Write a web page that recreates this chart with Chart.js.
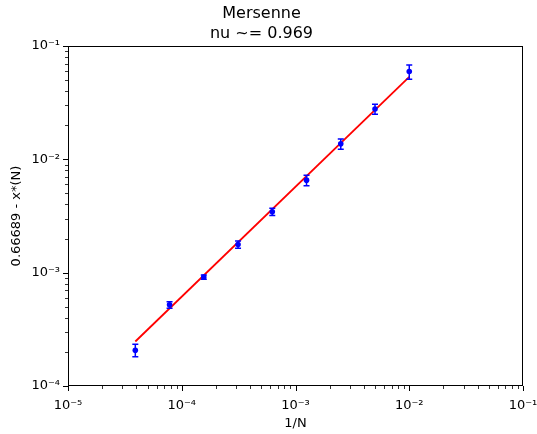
<!DOCTYPE html>
<html>
<head>
<meta charset="utf-8">
<script src="https://cdn.jsdelivr.net/npm/chart.js@4/dist/chart.umd.min.js"></script>
<style>
  html, body { margin: 0; padding: 0; background: #fff; }
</style>
</head>
<body>
<canvas id="chart" width="537" height="434"></canvas>
<script>
// 1/N for N = 25600 ... 100
const invN = [3.90625e-5, 7.8125e-5, 1.5625e-4, 3.125e-4, 6.25e-4, 1.25e-3, 2.5e-3, 5e-3, 1e-2];
// 0.66689 - x*(N) and its error
const gap = [2.07e-4, 5.2e-4, 9.15e-4, 1.77e-3, 3.45e-3, 6.55e-3, 1.37e-2, 2.78e-2, 5.95e-2];
const gapErr = [2.6e-5, 3.5e-5, 4e-5, 1.3e-4, 2.6e-4, 7e-4, 1.4e-3, 2.8e-3, 8.5e-3];
// fitted power law (slope ~ 0.969), endpoints
const fitX = [3.90625e-5, 1e-2];
const fitY = [2.47e-4, 5.33e-2];

const xDecades = [1e-5, 1e-4, 1e-3, 1e-2, 1e-1];
const xTickLabels = ['10⁻⁵', '10⁻⁴', '10⁻³', '10⁻²', '10⁻¹'];
const yDecades = [1e-4, 1e-3, 1e-2, 1e-1];
const yTickLabels = ['10⁻⁴', '10⁻³', '10⁻²', '10⁻¹'];

const FONT = 'DejaVu Sans';

// major + minor ticks (2..9 per decade)
function logTicks(decades) {
    const out = [];
    decades.forEach((d, i) => {
        out.push({ value: d, major: true });
        if (i < decades.length - 1) {
            for (let k = 2; k <= 9; k++) out.push({ value: d * k, major: false });
        }
    });
    return out;
}

function decadeLabel(decades, labels) {
    return function (value) {
        for (let i = 0; i < decades.length; i++) {
            if (Math.abs(Math.log10(value) - Math.log10(decades[i])) < 1e-6) return labels[i];
        }
        return '';
    };
}

// error bars, drawn just before the markers
const errorBars = {
    id: 'errorBars',
    beforeDatasetDraw(chart, args) {
        if (args.index !== 0) return;
        const { ctx, scales: { x, y } } = chart;
        ctx.save();
        ctx.strokeStyle = '#0000ff';
        ctx.lineWidth = 1.5;
        for (let i = 0; i < invN.length; i++) {
            const px = x.getPixelForValue(invN[i]);
            const top = y.getPixelForValue(gap[i] + gapErr[i]);
            const bot = y.getPixelForValue(gap[i] - gapErr[i]);
            ctx.beginPath();
            ctx.moveTo(px, top); ctx.lineTo(px, bot);
            ctx.moveTo(px - 3, top); ctx.lineTo(px + 3, top);
            ctx.moveTo(px - 3, bot); ctx.lineTo(px + 3, bot);
            ctx.stroke();
        }
        ctx.restore();
    }
};

// matplotlib style frame and outward ticks
const axisFrame = {
    id: 'axisFrame',
    afterDraw(chart) {
        const { ctx, chartArea: a, scales: { x, y } } = chart;
        ctx.save();
        ctx.strokeStyle = '#000';
        ctx.lineWidth = 1;
        ctx.strokeRect(a.left + 0.5, a.top + 0.5, a.right - a.left - 1, a.bottom - a.top - 1);
        x.ticks.forEach(t => {
            const px = Math.round(x.getPixelForValue(t.value)) + 0.5;
            ctx.lineWidth = t.major ? 1 : 0.8;
            ctx.beginPath();
            ctx.moveTo(px, a.bottom);
            ctx.lineTo(px, a.bottom + (t.major ? 5 : 3));
            ctx.stroke();
        });
        y.ticks.forEach(t => {
            const py = Math.round(y.getPixelForValue(t.value)) + 0.5;
            ctx.lineWidth = t.major ? 1 : 0.8;
            ctx.beginPath();
            ctx.moveTo(a.left, py);
            ctx.lineTo(a.left - (t.major ? 5 : 3), py);
            ctx.stroke();
        });
        ctx.restore();
    }
};

new Chart(document.getElementById('chart').getContext('2d'), {
    type: 'scatter',
    data: {
        datasets: [{
            label: 'data',
            data: invN.map((v, i) => ({ x: v, y: gap[i] })),
            backgroundColor: '#0000ff',
            borderColor: '#0000ff',
            pointRadius: 2.8,
            pointBorderWidth: 0,
            showLine: false
        }, {
            label: 'fit',
            data: fitX.map((v, i) => ({ x: v, y: fitY[i] })),
            borderColor: '#ff0000',
            borderWidth: 1.8,
            pointRadius: 0,
            showLine: true
        }]
    },
    options: {
        responsive: false,
        animation: false,
        devicePixelRatio: 1,
        layout: { padding: { left: 0, right: 14, top: 0, bottom: 0 } },
        plugins: {
            legend: { display: false },
            tooltip: { enabled: false },
            title: {
                display: true,
                text: ['Mersenne', 'nu ~= 0.969'],
                color: '#000',
                font: { family: FONT, size: 16, weight: 'normal', lineHeight: 1.25 },
                padding: { top: 4, bottom: 2 }
            }
        },
        scales: {
            x: {
                type: 'logarithmic',
                min: 1e-5, max: 1e-1,
                afterBuildTicks: s => { s.ticks = logTicks(xDecades); },
                afterFit: s => { s.height = 48; s.paddingLeft = 0; s.paddingRight = 0; },
                grid: { display: false, drawTicks: false },
                border: { display: false },
                ticks: {
                    autoSkip: false, maxRotation: 0, padding: 12,
                    color: '#000', font: { family: FONT, size: 13 },
                    callback: decadeLabel(xDecades, xTickLabels)
                },
                title: {
                    display: true, text: '1/N', color: '#000',
                    font: { family: FONT, size: 13 }, padding: { top: 0, bottom: 3 }
                }
            },
            y: {
                type: 'logarithmic',
                min: 1e-4, max: 1e-1,
                afterBuildTicks: s => { s.ticks = logTicks(yDecades); },
                afterFit: s => { s.width = 68; s.paddingTop = 0; s.paddingBottom = 0; },
                grid: { display: false, drawTicks: false },
                border: { display: false },
                ticks: {
                    autoSkip: false, padding: 8,
                    color: '#000', font: { family: FONT, size: 13 },
                    callback: decadeLabel(yDecades, yTickLabels)
                },
                title: {
                    display: true, text: '0.66689 - x*(N)', color: '#000',
                    font: { family: FONT, size: 13 }, padding: { top: 9, bottom: 0 }
                }
            }
        }
    },
    plugins: [errorBars, axisFrame]
});
</script>
</body>
</html>
